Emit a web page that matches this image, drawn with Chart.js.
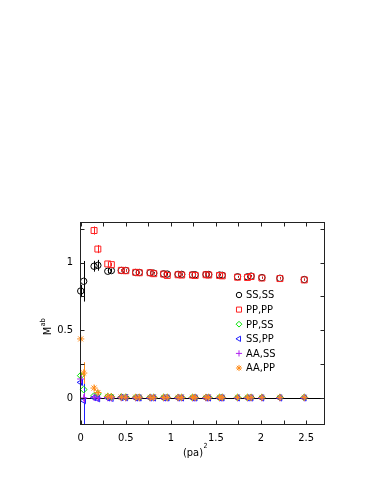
<!DOCTYPE html>
<html><head><meta charset="utf-8">
<script src="https://cdn.jsdelivr.net/npm/chart.js@4"></script>
<style>html,body{margin:0;padding:0;background:#fff;overflow:hidden}canvas{display:block}</style>
</head><body>
<canvas id="c" width="371" height="480" style="width:371px;height:480px"></canvas>
<script>
// ---- data ----
const xValues = [0, 0.033, 0.148, 0.19, 0.30, 0.34, 0.45, 0.50, 0.61, 0.65, 0.77, 0.81, 0.92, 0.96, 1.08, 1.12, 1.24, 1.27, 1.39, 1.42, 1.54, 1.57, 1.74, 1.85, 1.89, 2.01, 2.21, 2.48];

const ssSS    = [0.79, 0.862, 0.973, 0.98, 0.936, 0.941, 0.942, 0.942, 0.927, 0.927, 0.925, 0.922, 0.917, 0.915, 0.913, 0.913, 0.91, 0.91, 0.912, 0.912, 0.908, 0.906, 0.895, 0.895, 0.9, 0.889, 0.884, 0.875];
const ssSSErr = [0.045, 0.15, 0.04, 0.04, 0.015, 0.015, 0.008, 0.008, 0.007, 0.007, 0.007, 0.007, 0.007, 0.007, 0.007, 0.007, 0.007, 0.007, 0.007, 0.007, 0.007, 0.007, 0.007, 0.007, 0.007, 0.007, 0.007, 0.007];

const ppPP    = [null, null, 1.237, 1.10, 0.99, 0.985, 0.943, 0.94, 0.928, 0.925, 0.925, 0.918, 0.915, 0.905, 0.91, 0.908, 0.908, 0.905, 0.91, 0.908, 0.905, 0.902, 0.892, 0.89, 0.897, 0.886, 0.882, 0.872];
const ppPPErr = [null, null, 0.03, 0.03, 0.012, 0.012, 0.006, 0.006, 0.006, 0.006, 0.006, 0.006, 0.006, 0.006, 0.006, 0.006, 0.006, 0.006, 0.006, 0.006, 0.006, 0.006, 0.006, 0.006, 0.006, 0.006, 0.006, 0.006];

const ppSS    = [0.165, 0.062, 0.015, 0.03, 0.01, 0.008, 0.006, 0.005, 0.004, 0.004, 0.003, 0.003, 0.003, 0.003, 0.003, 0.003, 0.003, 0.003, 0.003, 0.003, 0.003, 0.003, 0.003, 0.003, 0.003, 0.003, 0.003, 0.003];
const ppSSErr = [0.02, 0.02, 0.01, 0.01, 0.006, 0.006, 0.004, 0.004, 0.004, 0.004, 0.004, 0.004, 0.004, 0.004, 0.004, 0.004, 0.004, 0.004, 0.004, 0.004, 0.004, 0.004, 0.004, 0.004, 0.004, 0.004, 0.004, 0.004];

const ssPP    = [0.115, -0.02, 0.002, -0.006, 0.0, -0.003, 0.003, 0.002, 0.0, 0.0, 0.0, 0.0, 0.0, 0.0, 0.0, 0.0, 0.0, 0.0, 0.0, 0.0, 0.0, 0.0, 0.0, 0.0, 0.0, 0.0, 0.0, 0.0];
const ssPPErr = [0.02, 0.19, 0.015, 0.015, 0.008, 0.008, 0.006, 0.006, 0.005, 0.005, 0.005, 0.005, 0.005, 0.005, 0.005, 0.005, 0.005, 0.005, 0.005, 0.005, 0.005, 0.005, 0.005, 0.005, 0.005, 0.005, 0.005, 0.005];

const aaSS    = [0.14, 0.0, 0.005, 0.0, 0.002, 0.0, 0.002, 0.001, 0.001, 0.001, 0.001, 0.001, 0.001, 0.001, 0.001, 0.001, 0.001, 0.001, 0.001, 0.001, 0.001, 0.001, 0.001, 0.001, 0.001, 0.001, 0.001, 0.001];
const aaSSErr = [0.03, 0.04, 0.012, 0.012, 0.006, 0.006, 0.004, 0.004, 0.004, 0.004, 0.004, 0.004, 0.004, 0.004, 0.004, 0.004, 0.004, 0.004, 0.004, 0.004, 0.004, 0.004, 0.004, 0.004, 0.004, 0.004, 0.004, 0.004];

const aaPP    = [0.436, 0.184, 0.073, 0.04, 0.012, 0.008, 0.006, 0.005, 0.005, 0.005, 0.004, 0.004, 0.004, 0.004, 0.004, 0.004, 0.004, 0.004, 0.004, 0.004, 0.004, 0.004, 0.004, 0.004, 0.004, 0.004, 0.004, 0.004];
const aaPPErr = [0.01, 0.08, 0.02, 0.015, 0.008, 0.008, 0.005, 0.005, 0.004, 0.004, 0.004, 0.004, 0.004, 0.004, 0.004, 0.004, 0.004, 0.004, 0.004, 0.004, 0.004, 0.004, 0.004, 0.004, 0.004, 0.004, 0.004, 0.004];

const seriesLabels = ['SS,SS', 'PP,PP', 'PP,SS', 'SS,PP', 'AA,SS', 'AA,PP'];
const xTickValues = [0, 0.5, 1, 1.5, 2, 2.5];
const yTickValues = [0, 0.5, 1];
const xMinorTicks = [0, 0.25, 0.5, 0.75, 1, 1.25, 1.5, 1.75, 2, 2.25, 2.5];
const yMinorTicks = [0, 0.25, 0.5, 0.75, 1, 1.25];

// ---- styling ----
const FONT = "'DejaVu Sans Condensed', 'Liberation Sans Narrow', 'Liberation Sans', Arial, sans-serif";
const NONE = 'rgba(0,0,0,0)';
const styles = [
  {color: '#000000', pointStyle: 'circle',  radius: 3.2, rotation: 0},
  {color: '#ff2020', pointStyle: 'rect',    radius: 4.2, rotation: 0},
  {color: '#00e000', pointStyle: 'rectRot', radius: 3.4, rotation: 0},
  {color: '#2020ff', pointStyle: 'triangle',radius: 3.6, rotation: -90},
  {color: '#b020f0', pointStyle: 'cross',   radius: 3.6, rotation: 0},
  {color: '#ff8c1a', pointStyle: 'star',    radius: 3.6, rotation: 0}
];
const seriesVals = [ssSS, ppPP, ppSS, ssPP, aaSS, aaPP];
const seriesErrs = [ssSSErr, ppPPErr, ppSSErr, ssPPErr, aaSSErr, aaPPErr];

function buildData(vals, errs) {
  const out = [];
  xValues.forEach((x, i) => { if (vals[i] != null) out.push({x: x, y: vals[i], e: errs[i] || 0}); });
  return out;
}

const datasets = seriesLabels.map((lab, k) => ({
  label: lab,
  data: buildData(seriesVals[k], seriesErrs[k]),
  order: seriesLabels.length - 1 - k,
  borderColor: styles[k].color,
  backgroundColor: NONE,
  pointBackgroundColor: NONE,
  pointBorderColor: styles[k].color,
  pointHoverBackgroundColor: NONE,
  pointStyle: styles[k].pointStyle,
  pointRadius: styles[k].radius,
  pointRotation: styles[k].rotation,
  pointBorderWidth: 1,
  pointHoverRadius: styles[k].radius,
  showLine: false,
  clip: false
}));

const errorBars = {
  id: 'errorBars',
  beforeDatasetsDraw(chart) {
    const ctx = chart.ctx, ys = chart.scales.y, xs = chart.scales.x, a = chart.chartArea;
    ctx.save();
    ctx.beginPath(); ctx.rect(a.left, a.top, a.right - a.left, a.bottom - a.top); ctx.clip();
    ctx.strokeStyle = '#000'; ctx.lineWidth = 1;
    const y0 = Math.round(ys.getPixelForValue(0)) + 0.5;
    ctx.beginPath(); ctx.moveTo(a.left, y0); ctx.lineTo(a.right, y0); ctx.stroke();
    chart.data.datasets.forEach((ds) => {
      ctx.strokeStyle = ds.borderColor; ctx.lineWidth = 1;
      ds.data.forEach(d => {
        if (!d.e) return;
        const px = Math.round(xs.getPixelForValue(d.x)) + 0.5;
        ctx.beginPath();
        ctx.moveTo(px, ys.getPixelForValue(d.y + d.e));
        ctx.lineTo(px, ys.getPixelForValue(d.y - d.e));
        ctx.stroke();
      });
    });
    ctx.restore();
  }
};

const frame = {
  id: 'frame',
  afterDraw(chart) {
    const ctx = chart.ctx, ys = chart.scales.y, xs = chart.scales.x, a = chart.chartArea;
    ctx.save();
    ctx.strokeStyle = '#222'; ctx.lineWidth = 1;
    const L = Math.round(a.left) + 0.5, R = Math.round(a.right) - 0.5, T = Math.round(a.top) + 0.5, B = Math.round(a.bottom) - 0.5;
    ctx.strokeRect(L, T, R - L, B - T);
    const tl = 4;
    ctx.beginPath();
    xMinorTicks.forEach(v => {
      const px = Math.round(xs.getPixelForValue(v)) + 0.5;
      ctx.moveTo(px, B); ctx.lineTo(px, B - tl);
      ctx.moveTo(px, T); ctx.lineTo(px, T + tl);
    });
    yMinorTicks.forEach(v => {
      const py = Math.round(ys.getPixelForValue(v)) + 0.5;
      ctx.moveTo(L, py); ctx.lineTo(L + tl, py);
      ctx.moveTo(R, py); ctx.lineTo(R - tl, py);
    });
    ctx.stroke();

    ctx.fillStyle = '#000';
    ctx.textBaseline = 'middle';
    // x title: (pa)^2
    ctx.font = '11px ' + FONT;
    const xt = '(pa)';
    const w1 = ctx.measureText(xt).width;
    ctx.font = '7px ' + FONT;
    const w2 = ctx.measureText('2').width;
    const cx = 195, cy = 453;
    ctx.font = '11px ' + FONT;
    ctx.textAlign = 'left';
    ctx.fillText(xt, cx - (w1 + w2) / 2, cy);
    ctx.font = '7px ' + FONT;
    ctx.fillText('2', cx - (w1 + w2) / 2 + w1 + 0.5, cy - 7);
    // y title: M^ab
    ctx.save();
    ctx.translate(48.5, 327);
    ctx.rotate(-Math.PI / 2);
    ctx.font = '11px ' + FONT;
    const m1 = ctx.measureText('M').width;
    ctx.font = '7px ' + FONT;
    const m2 = ctx.measureText('ab').width;
    ctx.font = '11px ' + FONT;
    ctx.fillText('M', -(m1 + m2) / 2, 0);
    ctx.font = '7px ' + FONT;
    ctx.fillText('ab', -(m1 + m2) / 2 + m1 + 0.5, -5);
    ctx.restore();

    // legend
    const lx = 239, ly0 = 295, step = 14.6;
    chart.data.datasets.forEach((ds, k) => {
      const y = ly0 + k * step;
      ctx.strokeStyle = ds.borderColor; ctx.fillStyle = NONE; ctx.lineWidth = 1;
      Chart.helpers.drawPoint(ctx, {pointStyle: ds.pointStyle, radius: ds.pointRadius * 0.85, rotation: ds.pointRotation, borderWidth: 1}, lx, y);
      ctx.fillStyle = '#000';
      ctx.font = '11px ' + FONT;
      ctx.textAlign = 'left';
      ctx.fillText(ds.label, 246, y + 0.5);
    });
    ctx.restore();
  }
};

new Chart(document.getElementById('c'), {
  type: 'scatter',
  data: {datasets: datasets},
  options: {
    responsive: false,
    animation: false,
    devicePixelRatio: 1,
    layout: {padding: {left: 0, top: 222, right: 46, bottom: 25}},
    plugins: {legend: {display: false}, tooltip: {enabled: false}},
    scales: {
      x: {
        type: 'linear', min: -0.008, max: 2.71,
        grid: {display: false, drawTicks: false},
        border: {display: false},
        afterFit(s) { s.height = 30; },
        afterBuildTicks(s) { s.ticks = xTickValues.map(v => ({value: v})); },
        ticks: {font: {family: FONT, size: 11}, color: '#000', padding: 7, maxRotation: 0,
                callback: v => String(v)}
      },
      y: {
        type: 'linear', min: -0.2, max: 1.3,
        grid: {display: false, drawTicks: false},
        border: {display: false},
        afterFit(s) { s.width = 80; },
        afterBuildTicks(s) { s.ticks = yTickValues.map(v => ({value: v})); },
        ticks: {font: {family: FONT, size: 11}, color: '#000', padding: 7,
                callback: v => String(v)}
      }
    }
  },
  plugins: [errorBars, frame]
});
</script>
</body></html>
